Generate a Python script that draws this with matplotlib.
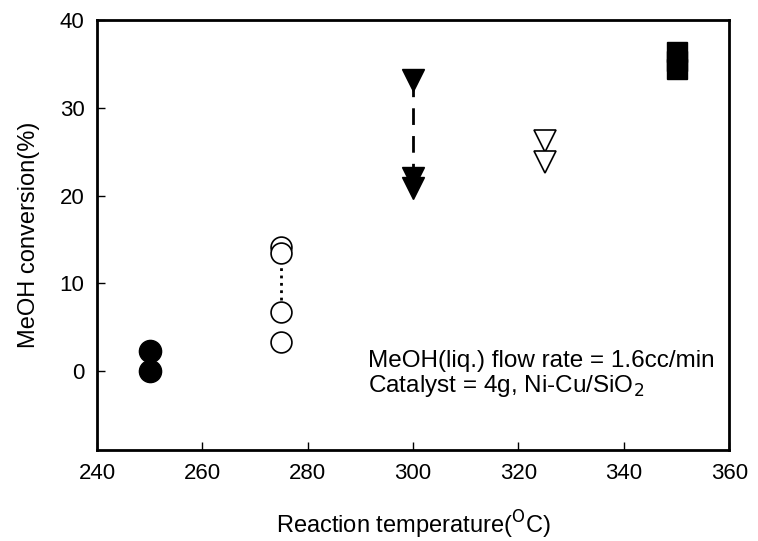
import matplotlib
matplotlib.use("Agg")
import matplotlib.pyplot as plt

plt.rcParams['font.family'] = ['Liberation Sans', 'DejaVu Sans']

# data
t250 = [250, 250]
c250 = [2.3, 0.0]
t275 = [275, 275, 275, 275]
c275 = [14.1, 13.5, 6.7, 3.3]
t300 = [300, 300, 300]
c300 = [33.2, 22.0, 20.9]
t325 = [325, 325]
c325 = [26.2, 23.8]
t350 = [350, 350, 350]
c350 = [36.3, 35.3, 34.4]

fig = plt.figure(figsize=(7.58, 5.41), dpi=100)
ax = fig.add_axes([0.128, 0.168, 0.834, 0.795])

ax.plot(t250, c250, 'o', color='k', markersize=16, linestyle='none')
ax.plot(t275[1:3], c275[1:3], ':', color='k', linewidth=2)
ax.plot(t275, c275, 'o', markerfacecolor='white', markeredgecolor='k',
        markersize=15, markeredgewidth=1.2, linestyle='none')
ax.plot([t300[0], t300[1]], [c300[0], c300[1]], '--', color='k', linewidth=2,
        dashes=(6, 4))
ax.plot(t300, c300, 'v', color='k', markersize=16, linestyle='none')
ax.plot(t325, c325, 'v', markerfacecolor='white', markeredgecolor='k',
        markersize=16, markeredgewidth=1.2, linestyle='none')
ax.plot(t350, c350, 's', color='k', markersize=14, linestyle='none')

ax.set_xlim(240, 360)
ax.set_ylim(-9, 40)
ax.set_xticks([240, 260, 280, 300, 320, 340, 360])
ax.set_yticks([0, 10, 20, 30, 40])
ax.tick_params(direction='in', length=6, width=1, labelsize=16, pad=9)
for s in ax.spines.values():
    s.set_linewidth(2)

ax.set_xlabel("Reaction temperature($^{\\mathrm{O}}$C)", fontsize=17, labelpad=18)
ax.set_ylabel("MeOH conversion(%)", fontsize=17, labelpad=14)

ax.text(0.428, 0.12, "MeOH(liq.) flow rate = 1.6cc/min\nCatalyst = 4g, Ni-Cu/SiO$_2$",
        transform=ax.transAxes, fontsize=17.5, va='bottom', ha='left', linespacing=1.05)

fig.savefig("out.png", dpi=100)
